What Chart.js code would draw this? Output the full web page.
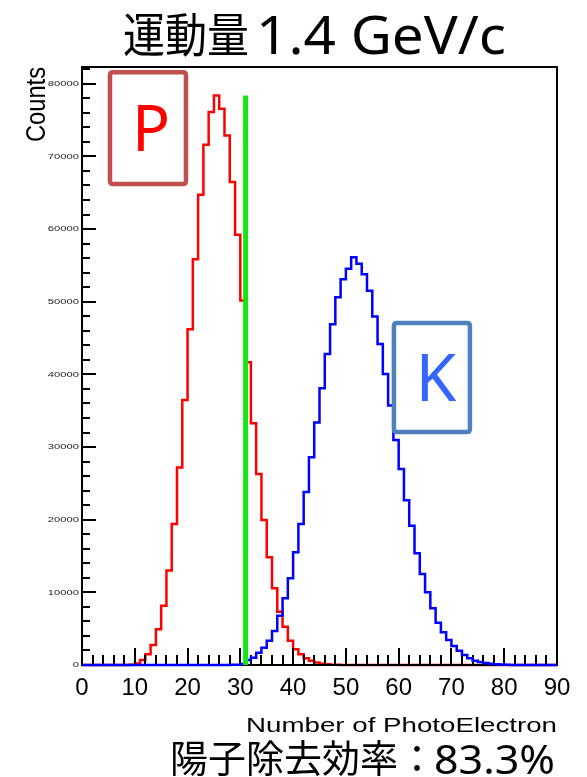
<!DOCTYPE html>
<html><head><meta charset="utf-8">
<script src="https://cdn.jsdelivr.net/npm/chart.js@4.4.1/dist/chart.umd.min.js"></script>
<style>
html,body{margin:0;padding:0;width:587px;height:777px;overflow:hidden;background:#fff}
#c{position:absolute;left:0;top:0}
.ov{position:absolute;left:0;top:0;white-space:nowrap;line-height:1;color:#000;transform-origin:0 0}
</style></head><body>
<canvas id="c" width="587" height="777"></canvas>
<div class="ov" id="t1" style="font-family:'Noto Sans CJK JP';font-size:47px">運動量</div>
<div class="ov" id="t2" style="font-family:'Noto Sans';font-size:52px">1.4 GeV/c</div>
<div class="ov" id="c1" style="font-family:'Noto Sans CJK JP';font-size:38px">陽子除去効率：</div>
<div class="ov" id="c2" style="font-family:'Noto Sans';font-size:40px">83.3%</div>
<script>
// ---- data (bins of width 1 photoelectron, starting at 0) ----
const protonCounts = [
  0,0,0,0,0,0,0,0,0,40,
  200,690,1470,2750,4910,8170,12990,19420,27170,36490,
  46230,55860,64720,71600,76110,78390,76560,72890,66470,59210,
  50160,41680,33280,26300,19970,14830,10560,7340,5270,3350,
  2160,1470,920,590,330,180,100,50,20,0,
  0,0,0,0,0,0,0,0,0,0,
  0,0,0,0,0,0,0,0,0,0,
  0,0,0,0,0,0,0,0,0,0,
  0,0,0,0,0,0,0,0,0,0
];
const kaonCounts = [
  0,0,0,0,0,0,0,0,0,0,
  0,0,0,0,0,0,0,0,0,0,
  0,0,0,0,0,0,0,0,20,50,
  150,690,1000,1700,2380,3350,4680,6790,9180,11940,
  15520,19420,23800,28580,33370,38100,42820,46910,50630,53110,
  54530,56140,55220,53800,51500,47960,44200,40070,35710,30980,
  26970,22670,19160,15380,12530,10010,7810,5830,4500,3440,
  2620,1970,1380,920,590,410,270,180,110,60,
  30,10,0,0,0,0,0,0,0,0
];
const cutValue = 31;
const xTickValues = [0,10,20,30,40,50,60,70,80,90];
const yTickValues = [0,10000,20000,30000,40000,50000,60000,70000,80000];
const speciesLabels = ['P','K'];
const xAxisTitle = 'Number of PhotoElectron';
const yAxisTitle = 'Counts';

function histPoints(counts){
  const pts = counts.map((v,i)=>({x:i,y:v}));
  pts.push({x:counts.length,y:counts[counts.length-1]});
  return pts;
}
const yMax = Math.max(...protonCounts)*1.05;

const annotations = [
  {text:speciesLabels[0], x0:5.3, x1:19.7, y0:81600, y1:66200, stroke:'#c0504d', color:'#ff0000', size:63, dx:3},
  {text:speciesLabels[1], x0:59.1, x1:73.5, y0:47060, y1:32060, stroke:'#4f81bd', color:'#3366ff', size:66, dx:4}
];

function roundRect(ctx,x,y,w,h,r){
  ctx.beginPath();
  ctx.moveTo(x+r,y);ctx.lineTo(x+w-r,y);ctx.quadraticCurveTo(x+w,y,x+w,y+r);
  ctx.lineTo(x+w,y+h-r);ctx.quadraticCurveTo(x+w,y+h,x+w-r,y+h);
  ctx.lineTo(x+r,y+h);ctx.quadraticCurveTo(x,y+h,x,y+h-r);
  ctx.lineTo(x,y+r);ctx.quadraticCurveTo(x,y,x+r,y);ctx.closePath();
}

function drawFrame(chart){
  const {ctx, chartArea:a, scales:{x,y}} = chart;
  ctx.save();
  ctx.strokeStyle='#000'; ctx.lineWidth=2;
  ctx.strokeRect(a.left,a.top,a.right-a.left,a.bottom-a.top);
  ctx.beginPath();
  for(let v=0; v<=yMax; v+=2000){
    const py = Math.round(y.getPixelForValue(v));
    const len = (v%10000===0)?14:8;
    ctx.moveTo(a.left,py); ctx.lineTo(a.left+len,py);
  }
  for(let v=0; v<=90; v+=2){
    const px = Math.round(x.getPixelForValue(v));
    const len = (v%10===0)?17:10;
    ctx.moveTo(px,a.bottom); ctx.lineTo(px,a.bottom-len);
  }
  ctx.stroke();
  ctx.restore();
}

const rootFrame = {
  id:'rootFrame',
  afterDatasetDraw(chart,args){
    // ROOT order: first histogram, then axis frame, then overlaid ("same") histogram
    if(chart.data.datasets[args.index].label==='P') drawFrame(chart);
  },
  afterDatasetsDraw(chart){
    const {ctx, chartArea:a, scales:{x,y}} = chart;
    ctx.save();
    ctx.fillStyle='#222';
    ctx.font='8px "Liberation Sans"';
    ctx.textAlign='right'; ctx.textBaseline='middle';
    yTickValues.forEach(v=>{
      const py = y.getPixelForValue(v);
      ctx.save(); ctx.translate(a.left-3,py); ctx.scale(1.4,1);
      ctx.fillText(String(v),0,0); ctx.restore();
    });
    ctx.fillStyle='#000';
    ctx.save();
    ctx.font='27px "Liberation Sans"';
    ctx.translate(45,a.top); ctx.rotate(-Math.PI/2); ctx.scale(0.877,1);
    ctx.textAlign='right'; ctx.textBaseline='alphabetic';
    ctx.fillText(yAxisTitle,0,0);
    ctx.restore();
    ctx.save();
    ctx.font='19.5px "Liberation Sans"';
    ctx.translate(a.right,732); ctx.scale(1.42,1);
    ctx.textAlign='right'; ctx.textBaseline='alphabetic';
    ctx.fillText(xAxisTitle,0,0);
    ctx.restore();
    annotations.forEach(b=>{
      const L=x.getPixelForValue(b.x0), R=x.getPixelForValue(b.x1);
      const T=y.getPixelForValue(b.y0), B=y.getPixelForValue(b.y1);
      ctx.strokeStyle=b.stroke; ctx.lineWidth=4.5;
      roundRect(ctx,L,T,R-L,B-T,3); ctx.stroke();
      ctx.fillStyle=b.color;
      ctx.font=b.size+'px "Noto Sans"';
      ctx.textAlign='center'; ctx.textBaseline='alphabetic';
      ctx.fillText(b.text,(L+R)/2+b.dx,(T+B)/2+0.714*b.size/2);
    });
    ctx.restore();
  }
};

new Chart(document.getElementById('c').getContext('2d'),{
  type:'line',
  data:{datasets:[
    {label:'P', order:3, data:histPoints(protonCounts), borderColor:'#ff0000', borderWidth:2.5, stepped:true, pointRadius:0, tension:0, clip:4},
    {label:'K', order:2, data:histPoints(kaonCounts), borderColor:'#0000ff', borderWidth:2.5, stepped:true, pointRadius:0, tension:0, clip:4},
    {label:'cut', order:1, data:[{x:cutValue,y:0},{x:cutValue,y:Math.max(...protonCounts)}], borderColor:'#14e614', borderWidth:5, pointRadius:0, clip:false}
  ]},
  options:{
    responsive:false, animation:false, devicePixelRatio:1,
    layout:{padding:{top:67,right:30,left:0,bottom:0}},
    plugins:{legend:{display:false},tooltip:{enabled:false},title:{display:false}},
    scales:{
      x:{type:'linear',min:0,max:90,
         afterBuildTicks(s){ s.ticks = xTickValues.map(v=>({value:v})); },
         ticks:{padding:9,color:'#000',font:{family:'Liberation Sans',size:24},maxRotation:0,autoSkip:false},
         grid:{display:false,drawTicks:false}, border:{display:false},
         afterFit(s){ s.height=112; }},
      y:{type:'linear',min:0,max:yMax,
         afterBuildTicks(s){ s.ticks = yTickValues.map(v=>({value:v})); },
         ticks:{display:false},
         grid:{display:false,drawTicks:false}, border:{display:false},
         afterFit(s){ s.width=82; }}
    }
  },
  plugins:[rootFrame]
});

function place(id,left,right,baseline){
  const el=document.getElementById(id);
  el.style.transform='none'; el.style.left=left+'px'; el.style.top='0px';
  let probe=el.querySelector('.probe');
  if(!probe){probe=document.createElement('span');probe.className='probe';
    probe.style.cssText='display:inline-block;width:0;height:0;vertical-align:baseline';el.appendChild(probe);}
  const b=probe.getBoundingClientRect().top;
  const w=el.getBoundingClientRect().width;
  el.style.top=(baseline-b)+'px';
  el.style.transform='scaleX('+((right-left)/w)+')';
}
function layoutText(){
  place('t1',123,249,51.5);
  place('t2',256,506,54);
  place('c1',170,436,772);
  place('c2',434,555,774);
}
layoutText();
if(document.fonts&&document.fonts.ready){document.fonts.ready.then(layoutText);}
</script>
</body></html>
